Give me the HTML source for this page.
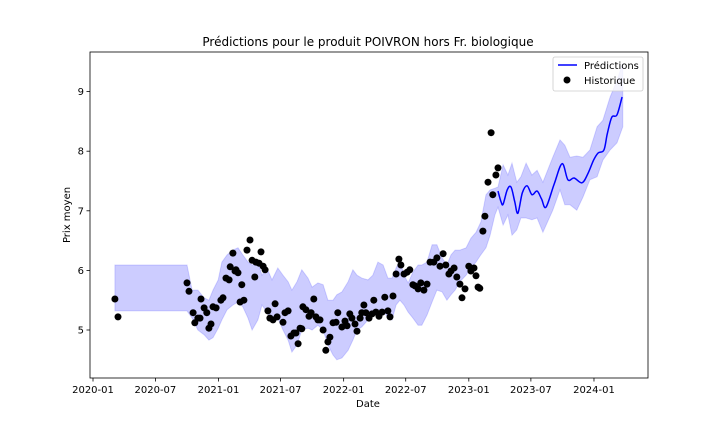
<!DOCTYPE html>
<html><head><meta charset="utf-8"><style>
html,body{margin:0;padding:0;background:#fff;}
svg{display:block;font-family:"DejaVu Sans","Liberation Sans",sans-serif;}
</style></head><body>
<svg id="chart" width="720" height="432" viewBox="0 0 720 432" xmlns="http://www.w3.org/2000/svg">
<rect x="0" y="0" width="720" height="432" fill="#fff"/>
<text x="368" y="46" text-anchor="middle" font-size="12">Prédictions pour le produit POIVRON hors Fr. biologique</text>
<g id="plot"></g>
<rect x="90" y="52" width="558" height="326" fill="none" stroke="#000" stroke-width="0.8"/>
<text x="368" y="407" text-anchor="middle" font-size="10">Date</text>
<text transform="translate(70,215) rotate(-90)" text-anchor="middle" font-size="10">Prix moyen</text>
<g>
<rect x="553" y="57" width="90" height="34" rx="2" fill="#fff" fill-opacity="0.8" stroke="#ccc" stroke-width="0.8"/>
<line x1="558" y1="65" x2="577" y2="65" stroke="#0000ff" stroke-width="1.5"/>
<text x="584" y="69" font-size="10">Prédictions</text>
<circle cx="567" cy="80" r="3.5" fill="#000"/>
<text x="584" y="84" font-size="10">Historique</text>
</g>
</svg>
<script>
const histDays=[64,73,274,280,292,297,306,312,315,324,332,338,344,350,359,373,379,388,397,400,408,417,414,423,429,434,440,449,458,464,472,475,484,490,496,502,510,516,525,531,537,554,560,569,577,586,592,598,604,609,612,621,630,636,644,650,656,662,671,679,685,691,700,709,714,726,735,741,749,755,764,770,779,784,790,796,805,814,819,825,834,843,851,860,866,875,884,892,898,907,916,924,933,939,948,956,965,974,983,994,1003,1012,1021,1029,1038,1044,1053,1061,1070,1076,1085,1096,1102,1111,1117,1123,1128,1137,1143,1152,1161,1166,1175,1181];
const histValues=[5.52,5.22,5.79,5.65,5.29,5.12,5.20,5.20,5.52,5.37,5.29,5.03,5.10,5.39,5.37,5.50,5.54,5.87,5.84,6.06,6.29,6.01,5.99,5.96,5.47,5.76,5.50,6.34,6.51,6.17,5.89,6.14,6.12,6.31,6.07,6.01,5.32,5.20,5.17,5.44,5.22,5.13,5.29,5.32,4.90,4.95,4.95,4.77,5.03,5.02,5.39,5.34,5.23,5.29,5.52,5.22,5.17,5.17,5.00,4.66,4.80,4.88,5.12,5.13,5.29,5.05,5.15,5.07,5.27,5.20,5.10,4.98,5.20,5.29,5.42,5.29,5.20,5.27,5.50,5.30,5.23,5.30,5.55,5.32,5.22,5.57,5.94,6.19,6.09,5.94,5.97,6.01,5.76,5.74,5.69,5.79,5.67,5.77,6.14,6.14,6.21,6.07,6.28,6.09,5.94,5.99,6.04,5.89,5.77,5.54,5.69,6.07,5.99,6.04,5.91,5.72,5.70,6.66,6.91,7.48,8.31,7.27,7.60,7.72];
const bandDays=[64,274,289,306,324,338,350,365,376,391,408,423,437,452,464,481,493,507,522,539,554,569,580,595,609,627,639,656,671,685,700,711,726,744,758,770,784,802,816,831,846,860,872,884,895,907,919,933,948,959,974,989,1003,1018,1032,1044,1056,1070,1088,1102,1117,1131,1146,1158,1172,1181,1196,1210,1222,1236,1248,1263,1280,1295,1312,1341,1362,1376,1391,1411,1429,1449,1470,1487,1508,1528,1545];
const bandUpper=[6.09,6.09,5.67,5.67,5.54,5.50,5.67,5.84,6.14,6.26,6.34,6.38,6.26,6.14,6.09,6.14,5.92,6.04,5.84,6.04,5.92,5.81,5.67,5.81,6.01,5.87,5.72,5.79,5.76,5.50,5.50,5.59,5.64,5.81,6.01,5.92,5.87,5.84,5.92,6.14,6.09,5.87,5.87,6.04,6.17,5.92,5.79,5.97,6.09,6.09,6.14,6.43,6.43,6.21,6.09,6.26,6.34,6.34,6.38,6.54,6.64,6.81,7.27,7.35,7.38,7.40,7.77,7.60,7.80,7.48,7.57,7.80,7.60,7.68,7.48,7.90,8.19,8.10,7.90,7.92,7.90,8.02,8.41,8.52,8.91,9.19,9.48];
const bandLower=[5.32,5.32,5.20,5.00,4.92,4.83,4.87,5.03,5.17,5.34,5.42,5.47,5.39,5.20,5.00,5.17,5.42,5.30,5.17,5.20,5.00,4.83,4.63,4.75,5.00,5.03,5.00,5.08,5.00,4.75,4.58,4.50,4.53,4.66,4.83,5.00,5.05,5.17,5.25,5.34,5.34,5.20,5.17,5.42,5.50,5.42,5.30,5.20,5.08,5.08,5.25,5.47,5.67,5.64,5.50,5.59,5.67,5.81,5.92,6.04,6.14,6.26,6.38,6.59,6.93,7.06,6.76,6.93,6.59,6.68,6.88,6.88,6.85,6.88,6.64,7.01,7.35,7.10,7.10,7.01,7.23,7.52,7.57,7.85,8.02,8.14,8.41];
const predDays=[1181,1190,1196,1208,1219,1230,1239,1252,1266,1280,1295,1308,1321,1345,1368,1385,1403,1426,1443,1460,1473,1490,1500,1513,1528,1543];
const predValues=[7.33,7.15,7.11,7.35,7.40,7.15,6.96,7.30,7.42,7.27,7.33,7.20,7.06,7.45,7.79,7.52,7.55,7.47,7.62,7.85,7.97,8.02,8.30,8.57,8.61,8.91];
const xTickDays=[0,182,366,547,731,912,1096,1277,1461];
const xTickLabels=["2020-01","2020-07","2021-01","2021-07","2022-01","2022-07","2023-01","2023-07","2024-01"];
const yTickValues=[5,6,7,8,9];

const NS="http://www.w3.org/2000/svg";
const X0=90,X1=648,Y0=52,Y1=378;
function xs(d){return 93+d*0.3429;}
function ys(v){return 330-(v-5)*59.6;}
const plot=document.getElementById('plot');
function mk(t,a){const e=document.createElementNS(NS,t);for(const k in a)e.setAttribute(k,a[k]);return e;}

let bp="";
for(let i=0;i<bandDays.length;i++)bp+=(i?"L":"M")+xs(bandDays[i]).toFixed(1)+","+ys(bandUpper[i]).toFixed(1);
for(let i=bandDays.length-1;i>=0;i--)bp+="L"+xs(bandDays[i]).toFixed(1)+","+ys(bandLower[i]).toFixed(1);
bp+="Z";
const band=mk('path',{d:bp,fill:'#0000ff','fill-opacity':'0.2',stroke:'#0000ff','stroke-opacity':'0.15'});


plot.appendChild(band);

const pts=predDays.map((d,i)=>[xs(d),ys(predValues[i])]);
let lp="M"+pts[0][0].toFixed(1)+","+pts[0][1].toFixed(1);
for(let i=0;i<pts.length-1;i++){
  const p0=pts[Math.max(0,i-1)],p1=pts[i],p2=pts[i+1],p3=pts[Math.min(pts.length-1,i+2)];
  const c1=[p1[0]+(p2[0]-p0[0])/6,p1[1]+(p2[1]-p0[1])/6];
  const c2=[p2[0]-(p3[0]-p1[0])/6,p2[1]-(p3[1]-p1[1])/6];
  lp+="C"+c1[0].toFixed(1)+","+c1[1].toFixed(1)+" "+c2[0].toFixed(1)+","+c2[1].toFixed(1)+" "+p2[0].toFixed(1)+","+p2[1].toFixed(1);
}
const line=mk('path',{d:lp,fill:'none',stroke:'#0000ff','stroke-width':'1.5'});


plot.appendChild(line);

for(let i=0;i<histDays.length;i++){
  const c=mk('circle',{cx:xs(histDays[i]).toFixed(1),cy:ys(histValues[i]).toFixed(1),r:3.5,fill:'#000'});
  
  
  plot.appendChild(c);
}

for(let i=0;i<xTickDays.length;i++){
  const x=xs(xTickDays[i]);
  const t=mk('line',{x1:x,y1:Y1,x2:x,y2:Y1+3.5,stroke:'#000','stroke-width':'0.8'});
  
  
  plot.appendChild(t);
  const l=mk('text',{x:x,y:Y1+15,'text-anchor':'middle','font-size':'10'});
  l.textContent=xTickLabels[i];
  
  
  plot.appendChild(l);
}
for(let i=0;i<yTickValues.length;i++){
  const y=ys(yTickValues[i]);
  const t=mk('line',{x1:X0-3.5,y1:y,x2:X0,y2:y,stroke:'#000','stroke-width':'0.8'});
  
  
  plot.appendChild(t);
  const l=mk('text',{x:X0-6,y:y+3.5,'text-anchor':'end','font-size':'10'});
  l.textContent=String(yTickValues[i]);
  
  
  plot.appendChild(l);
}
</script>
</body></html>
